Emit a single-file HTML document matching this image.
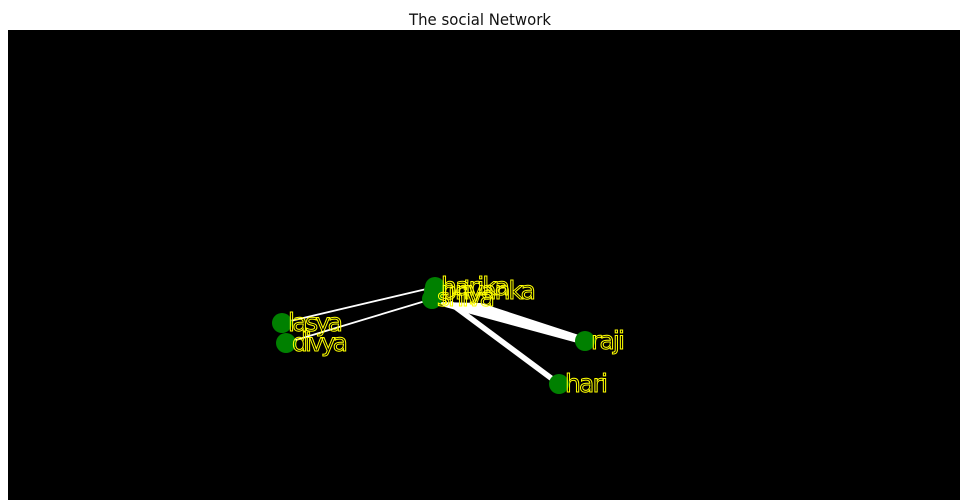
<!DOCTYPE html>
<html><head><meta charset="utf-8"><style>
html,body{margin:0;padding:0;background:#fff;width:960px;height:500px;overflow:hidden}
svg{display:block}
</style></head><body>
<svg width="960" height="500" viewBox="0 0 960 500" xmlns="http://www.w3.org/2000/svg">
<rect width="960" height="500" fill="#fff"/>
<rect x="8" y="30" width="952" height="470" fill="#000"/>
<text x="409" y="25" font-family="'DejaVu Sans',sans-serif" font-size="16" fill="#111" textLength="142" lengthAdjust="spacingAndGlyphs">The social Network</text>
<g stroke="#fff" stroke-linecap="butt">
<line x1="282" y1="323" x2="435" y2="287" stroke-width="1.8"/>
<line x1="286" y1="343" x2="432" y2="299" stroke-width="1.8"/>
<line x1="450" y1="303" x2="559" y2="384" stroke-width="5.5"/>
</g>
<polygon points="438,302 481,303 585,337 585,345 445,307" fill="#fff"/>
<g fill="#008000">
<circle cx="282" cy="323" r="10"/>
<circle cx="286" cy="343" r="10"/>
<circle cx="435" cy="287" r="10"/>
<circle cx="434" cy="291" r="10"/>
<circle cx="432" cy="299" r="10"/>
<circle cx="585" cy="341" r="10"/>
<circle cx="559" cy="384" r="10"/>
</g>
<g font-family="'DejaVu Sans',sans-serif" font-size="25" fill="none" stroke="#ff0" stroke-width="1" lengthAdjust="spacingAndGlyphs">
<text x="441" y="295" textLength="69">harika</text>
<text x="441" y="299" textLength="95">priyanka</text>
<text x="437" y="306" textLength="58">shiva</text>
<text x="288" y="331" textLength="55">lasya</text>
<text x="292" y="351" textLength="56">divya</text>
<text x="591" y="349" textLength="34">raji</text>
<text x="565" y="392" textLength="43">hari</text>
</g>
</svg>
</body></html>
